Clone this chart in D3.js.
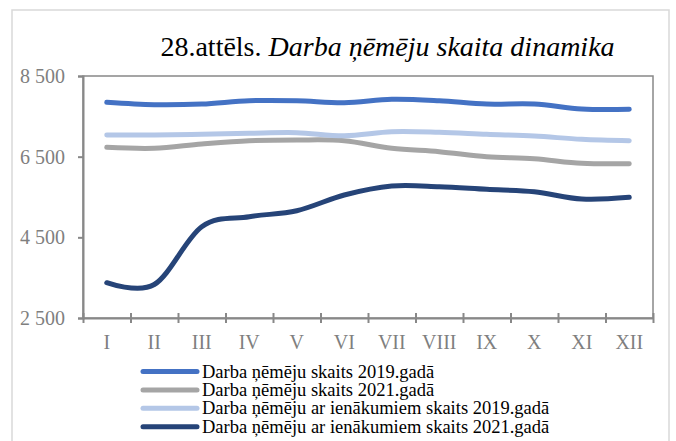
<!DOCTYPE html>
<html><head><meta charset="utf-8">
<script src="https://cdn.jsdelivr.net/npm/d3@7/dist/d3.min.js"></script>
<style>body{margin:0;background:#fff}svg{display:block}</style>
</head><body>
<svg id="c" width="676" height="441"></svg>
<script>
const months = ["I","II","III","IV","V","VI","VII","VIII","IX","X","XI","XII"];
const seriesNames = [
  "Darba ņēmēju skaits 2019.gadā",
  "Darba ņēmēju skaits 2021.gadā",
  "Darba ņēmēju ar ienākumiem skaits 2019.gadā",
  "Darba ņēmēju ar ienākumiem skaits 2021.gadā"
];
const employees2019 = [7848,7788,7805,7887,7887,7838,7922,7887,7805,7805,7681,7674];
const employees2021 = [6732,6707,6814,6896,6913,6896,6707,6623,6499,6449,6335,6325];
const withIncome2019 = [7037,7037,7054,7079,7094,7020,7119,7104,7054,7012,6930,6896];
const withIncome2021 = [3375,3330,4763,5011,5160,5549,5772,5755,5690,5631,5450,5492];
const yTicks = [2500,4500,6500,8500];
const colors = ["#4472C4","#A5A5A5","#B4C7E7","#264478"];
const allSeries = [employees2019, employees2021, withIncome2019, withIncome2021];

const serif = "'Liberation Serif', 'Times New Roman', serif";
const svg = d3.select("#c");
const L = 83, R = 653, T = 76, B = 318;

// outer border
svg.append("rect").attr("x",12).attr("y",10).attr("width",657).attr("height",445)
  .attr("fill","none").attr("stroke","#d9d9d9").attr("stroke-width",1.5);

// title
const title = svg.append("text").attr("x",387.5).attr("y",56).attr("text-anchor","middle")
  .style("font-family",serif).attr("font-size",28).attr("fill","#000");
title.append("tspan").text("28.attēls. ");
title.append("tspan").attr("font-style","italic").text("Darba ņēmēju skaita dinamika");

const x = d3.scaleBand().domain(months).range([L,R]);
const xi = d3.scaleLinear().domain([0,12]).range([L,R]);
const y = d3.scaleLinear().domain([2500,8500]).range([B,T]);
const fmt = d3.formatLocale({decimal:",",thousands:" ",grouping:[3],currency:["",""]}).format(",d");

// frame
svg.append("rect").attr("x",L).attr("y",T).attr("width",R-L).attr("height",B-T)
  .attr("fill","none").attr("stroke","#888").attr("stroke-width",1.5);

// y axis
const ya = svg.append("g").attr("transform",`translate(${L},0)`)
  .call(d3.axisLeft(y).tickValues(yTicks).tickFormat(fmt).tickSize(5).tickPadding(13));
ya.select(".domain").attr("stroke","#888").attr("stroke-width",2);
ya.selectAll(".tick line").attr("stroke","#888").attr("stroke-width",2);
ya.selectAll(".tick text").style("font-family",serif)
  .attr("font-size",20).attr("fill","#7f7f7f");

// x axis ticks (crossing) at band boundaries
const xt = svg.append("g").attr("transform",`translate(0,${B})`)
  .call(d3.axisBottom(xi).tickValues(d3.range(13)).tickFormat("").tickSizeOuter(0));
xt.select(".domain").attr("stroke","#888").attr("stroke-width",2);
xt.selectAll(".tick line").attr("y1",-5).attr("y2",5).attr("stroke","#888").attr("stroke-width",2);

// x labels
const xl = svg.append("g").attr("transform",`translate(0,${B})`)
  .call(d3.axisBottom(x).tickSize(0).tickPadding(17));
xl.select(".domain").remove();
xl.selectAll(".tick text").style("font-family",serif)
  .attr("font-size",20).attr("fill","#7f7f7f");

// lines
const line = d3.line().x((d,i)=>x(months[i])+x.bandwidth()/2).y(d=>y(d)).curve(d3.curveCardinal.tension(0));
allSeries.forEach((s,k)=>{
  svg.append("path").datum(s).attr("d",line).attr("fill","none")
    .attr("stroke",colors[k]).attr("stroke-width",5).attr("stroke-linecap","round").attr("stroke-linejoin","round");
});

// legend
const lg = svg.append("g");
seriesNames.forEach((n,k)=>{
  const yy = 371.5 + k*18.4;
  lg.append("line").attr("x1",143).attr("x2",197).attr("y1",yy).attr("y2",yy)
    .attr("stroke",colors[k]).attr("stroke-width",5).attr("stroke-linecap","round");
  lg.append("text").attr("x",202).attr("y",yy+6).text(n)
    .style("font-family",serif).attr("font-size",18.5).attr("fill","#000");
});
</script>
</body></html>
